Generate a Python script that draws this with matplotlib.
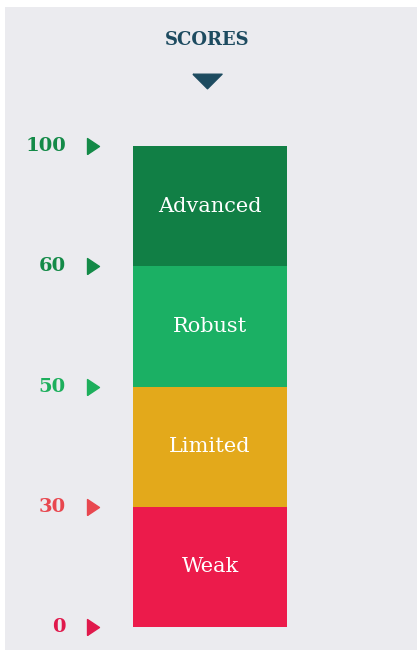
import matplotlib.pyplot as plt
from matplotlib.patches import Rectangle
from matplotlib.transforms import blended_transform_factory

# data
categories = ["Weak", "Limited", "Robust", "Advanced"]
seg_colors = ["#ec1b4b", "#e3a91b", "#1bb064", "#117f45"]
scores = ["0", "30", "50", "60", "100"]
score_colors = ["#e0194c", "#e8474f", "#1daf5c", "#148a48", "#148a48"]

title_col = "#1d4b60"
bg = "#ebebef"

fig = plt.figure(figsize=(4.17, 6.5), dpi=100, facecolor="white")
fig.patches.append(Rectangle((5 / 417, 0), 1, (650 - 7) / 650, transform=fig.transFigure,
                             facecolor=bg, edgecolor="none", zorder=-10))

# axes covers the bar only (pixels 133..287 x, 146..627 y)
ax = fig.add_axes([133 / 417, (650 - 627) / 650, 154 / 417, 481 / 650])
ax.set_facecolor("none")
ax.set_xlim(0, 1)
ax.set_ylim(0, len(categories))
ax.axis("off")

for i, (cat, col) in enumerate(zip(categories, seg_colors)):
    ax.bar(0.5, 1, bottom=i, width=1, color=col, edgecolor="none")
    ax.text(0.5, i + 0.5, cat, ha="center", va="center", color="white",
            fontsize=15, family="DejaVu Serif")

# score thresholds on the left
trans = blended_transform_factory(fig.transFigure, ax.transData)
tri_right = [(-0.375, -0.5), (-0.375, 0.5), (0.375, 0), (-0.375, -0.5)]
for i, (s, col) in enumerate(zip(scores, score_colors)):
    ax.text(66 / 417, i, s, transform=trans, ha="right", va="center", color=col,
            fontsize=14, fontweight="bold", family="DejaVu Serif", clip_on=False)
    ax.plot([93 / 417], [i], transform=trans, marker=tri_right, markersize=11.5,
            color=col, clip_on=False, linestyle="none")

# header
fig.text(207 / 417, 1 - 40 / 650, "SCORES", ha="center", va="center", color=title_col,
         fontsize=13, fontweight="bold", family="DejaVu Serif")
tri_down = [(-1, 0.5), (1, 0.5), (0, -0.5), (-1, 0.5)]
fig.lines.append(plt.Line2D([207 / 417], [1 - 81 / 650], transform=fig.transFigure,
                            marker=tri_down, markersize=21, color=title_col,
                            linestyle="none"))

fig.savefig("out.png", dpi=100, facecolor=fig.get_facecolor())
